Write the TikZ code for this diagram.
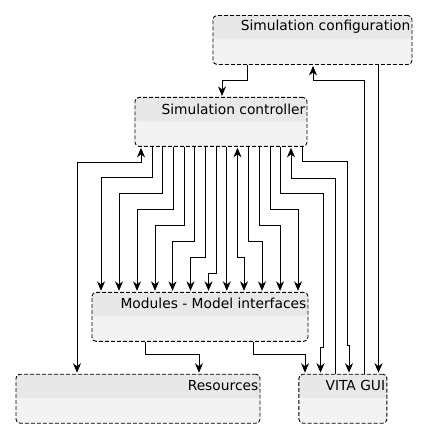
\documentclass[tikz,border=0pt]{standalone}
\usepackage{fontspec}
\usepackage{tikz}
\usetikzlibrary{arrows.meta, positioning}
\newfontfamily\boxfont{DejaVu Sans}
\definecolor{headgray}{RGB}{232,232,232}
\definecolor{bodygray}{RGB}{243,243,243}

\begin{document}
\begin{tikzpicture}[x=1pt, y=-1pt,
    umlbox/.style={rectangle, draw=black, line width=0.9pt, dash pattern=on 4pt off 2pt,
                rounded corners=4pt, fill=bodygray, minimum height=49pt, inner sep=0pt,
                path picture={\fill[headgray] (path picture bounding box.north west)
                    rectangle ([yshift=-24pt]path picture bounding box.north east);}},
    title/.style={anchor=east, yshift=-12pt, xshift=-1pt, inner sep=1pt,
                font=\boxfont\fontsize{13.8}{16}\selectfont},
    arrow/.style={line width=0.9pt, -{Stealth[length=9.5pt,width=8pt,inset=3pt]}, shorten >=1pt},
    biarrow/.style={line width=0.9pt, {Stealth[length=9.5pt,width=8pt,inset=3pt]}-{Stealth[length=9.5pt,width=8pt,inset=3pt]},
                shorten >=1pt, shorten <=1pt}]

\useasboundingbox (0,0) rectangle (427,435);

% Boxes
\node (config) [umlbox, minimum width=199pt, label={[title]north east:Simulation configuration}] at (312.5,40) {};
\node (ctrl) [umlbox, minimum width=172pt, below=32pt of config, xshift=-91.5pt,
    label={[title]north east:Simulation controller}] {};
\node (mods) [umlbox, minimum width=216pt, below=145pt of ctrl, xshift=-21pt,
    label={[title]north east:Modules - Model interfaces}] {};
\node (res) [umlbox, minimum width=244pt, below=32pt of mods, xshift=-62pt,
    label={[title]north east:Resources}] {};
\node (gui) [umlbox, minimum width=88pt, right=38pt of res,
    label={[title]north east:VITA GUI}] {};

% Configuration links
\draw [arrow] (247,0 |- config.south) |- (222,80) -- (222,0 |- ctrl.north);
\draw [arrow] (364,0 |- gui.north) |- (313,80) -- (313,0 |- config.south);
\draw [arrow] (378.5,0 |- config.south) -- (378.5,0 |- gui.north);

% Controller to modules
\foreach \cx/\ly/\mx in {152/177.5/101, 162.5/193/119, 173/209/137, 184/225/155, 194.5/241/172.5,
    205.5/257/190.5, 216/273/208.5, 248.5/241/262, 259/225/280, 270/209/298}
  \draw [arrow] (\cx,0 |- ctrl.south) |- (\mx,\ly) -- (\mx,0 |- mods.north);
\draw [arrow] (226.8,0 |- ctrl.south) -- (226.8,0 |- mods.north);
\draw [biarrow] (237.5,0 |- ctrl.south) |- (244,257) -- (244,0 |- mods.north);

% Controller to resources and GUI
\draw [biarrow] (141,0 |- ctrl.south) |- (77,162) -- (77,0 |- res.north);
\draw [arrow] (280.5,0 |- ctrl.south) |- (323,193) -- (323,347) -| (320.5,0 |- gui.north);
\draw [arrow] (335,0 |- gui.north) |- (291,178) -- (291,0 |- ctrl.south);
\draw [arrow] (302,0 |- ctrl.south) |- (347,161.5) -- (347,345) -| (349,0 |- gui.north);

% Modules to resources and GUI
\draw [arrow] (145,0 |- mods.south) |- (199,354) -- (199,0 |- res.north);
\draw [arrow] (253,0 |- mods.south) |- (305,354) -- (305,0 |- gui.north);
\end{tikzpicture}
\end{document}
